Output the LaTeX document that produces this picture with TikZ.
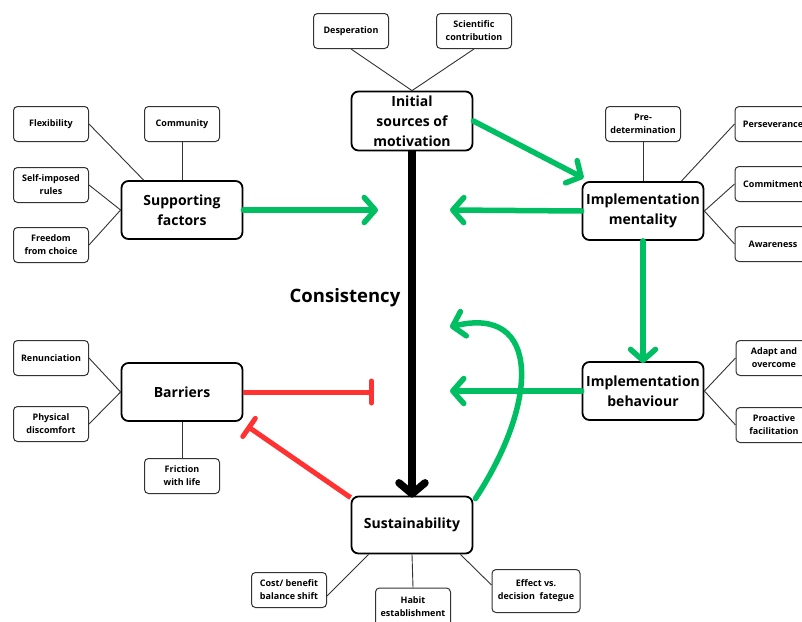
\documentclass[tikz,border=0pt]{standalone}
\usepackage{fontspec}
\setmainfont{Open Sans}
\usetikzlibrary{arrows.meta}
\definecolor{cgreen}{RGB}{0,191,99}
\definecolor{cred}{RGB}{255,49,49}
\tikzset{
  small/.style={draw=black!80, rounded corners=4pt, line width=1pt, minimum width=75pt, minimum height=35pt, align=center, inner sep=1pt, font=\fontsize{9}{13}\selectfont\bfseries, fill=white},
  big/.style={draw=black, rounded corners=7pt, line width=1.8pt, minimum width=121pt, minimum height=58pt, align=center, inner sep=1pt, font=\fontsize{14}{20}\selectfont\bfseries, fill=white},
  thin/.style={draw=black!80, line width=0.9pt},
  garrow/.style={draw=cgreen, line width=5.5pt, line cap=round, -{Straight Barb[round, length=11pt, width=25pt]}},
  barrow/.style={draw=black, line width=7.5pt, -{Straight Barb[round, length=11pt, width=26pt]}},
  rbar/.style={draw=cred, line width=5pt, -{Bar[width=22pt, round]}},
}
\begin{document}
\begin{tikzpicture}[x=1pt,y=-1pt]
\clip (0,0) rectangle (802,621);
\fill[white] (0,0) rectangle (802,621);
% big nodes
\node[big, minimum height=59pt] (init) at (412,121) {Initial\\sources of\\motivation};
\node[big] (supp) at (182,210) {Supporting\\factors};
\node[big] (impm) at (643,211) {Implementation\\mentality};
\node[big] (barr) at (182,392) {Barriers};
\node[big] (impb) at (643,391) {Implementation\\behaviour};
\node[big, minimum height=57pt] (sust) at (412,525) {Sustainability};
\node[font=\fontsize{18.5}{22}\selectfont\bfseries] (cons) at (345,298) {Consistency};
% small nodes
\node[small] (desp) at (351,31) {Desperation};
\node[small] (sci) at (474,31) {Scientific\\contribution};
\node[small] (flex) at (51,124) {Flexibility};
\node[small] (comm) at (182,124) {Community};
\node[small] (self) at (51,185) {Self-imposed\\rules};
\node[small] (free) at (51,245) {Freedom\\from choice};
\node[small] (pre) at (643,124) {Pre-\\determination};
\node[small, minimum width=76pt] (pers) at (773,124) {Perseverance};
\node[small, minimum width=76pt] (commit) at (773,184) {Commitment};
\node[small, minimum width=76pt] (aware) at (773,244) {Awareness};
\node[small] (ren) at (51,358) {Renunciation};
\node[small] (phys) at (51,424) {Physical\\discomfort};
\node[small] (fric) at (182,476) {Friction\\with life};
\node[small, minimum width=76pt] (adapt) at (774,358) {Adapt and\\overcome};
\node[small, minimum width=76pt] (proa) at (774,425) {Proactive\\facilitation};
\node[small] (cost) at (289,590) {Cost/ benefit\\balance shift};
\node[small, minimum height=38pt] (habit) at (413,607) {Habit\\establishment};
\node[small, minimum width=88pt, minimum height=43pt] (eff) at (536,591) {Effect vs.\\decision~ fategue};
% thin connectors
\draw[thin] (desp.south) -- (init.north);
\draw[thin] (sci.south) -- (init.north);
\draw[thin] (flex.east) -- ([xshift=23pt]supp.north west);
\draw[thin] (comm.south) -- (supp.north);
\draw[thin] (self.east) -- (supp.west);
\draw[thin] (free.east) -- (supp.west);
\draw[thin] (pre.south) -- (impm.north);
\draw[thin] (pers.west) -- ([xshift=-23pt]impm.north east);
\draw[thin] (commit.west) -- (impm.east);
\draw[thin] (aware.west) -- (impm.east);
\draw[thin] (ren.east) -- (barr.west);
\draw[thin] (phys.east) -- (barr.west);
\draw[thin] (fric.north) -- (barr.south);
\draw[thin] (adapt.west) -- (impb.east);
\draw[thin] (proa.west) -- (impb.east);
\draw[thin] ([yshift=-6pt]cost.east) -- ([xshift=18pt]sust.south west);
\draw[thin] (habit.north) -- (sust.south);
\draw[thin] ([yshift=6pt]eff.west) -- ([xshift=-13pt]sust.south east);
% free ends
\coordinate (sR) at (378,210);
\coordinate (mL) at (450,210);
\coordinate (bL) at (450,391);
\coordinate (cE) at (450,327);
\coordinate (rE) at (374,392);
\coordinate (rE2) at (247,426);
% thick arrows
\draw[barrow] (init.south) -- ([yshift=-2pt]sust.north);
\draw[garrow] (init.east) -- ([xshift=2pt,yshift=3pt]impm.north west);
\draw[garrow] (supp.east) -- (sR);
\draw[garrow] (impm.west) -- (mL);
\draw[garrow] (impm.south) -- ([yshift=-2pt]impb.north);
\draw[garrow] (impb.west) -- (bL);
\draw[garrow] ([xshift=2pt,yshift=-3pt]sust.north east) .. controls (540,400) and (540,305) .. (cE);
\draw[rbar] (barr.east) -- (rE);
\draw[rbar] ([yshift=-2pt]sust.north west) -- (rE2);
\end{tikzpicture}
\end{document}
